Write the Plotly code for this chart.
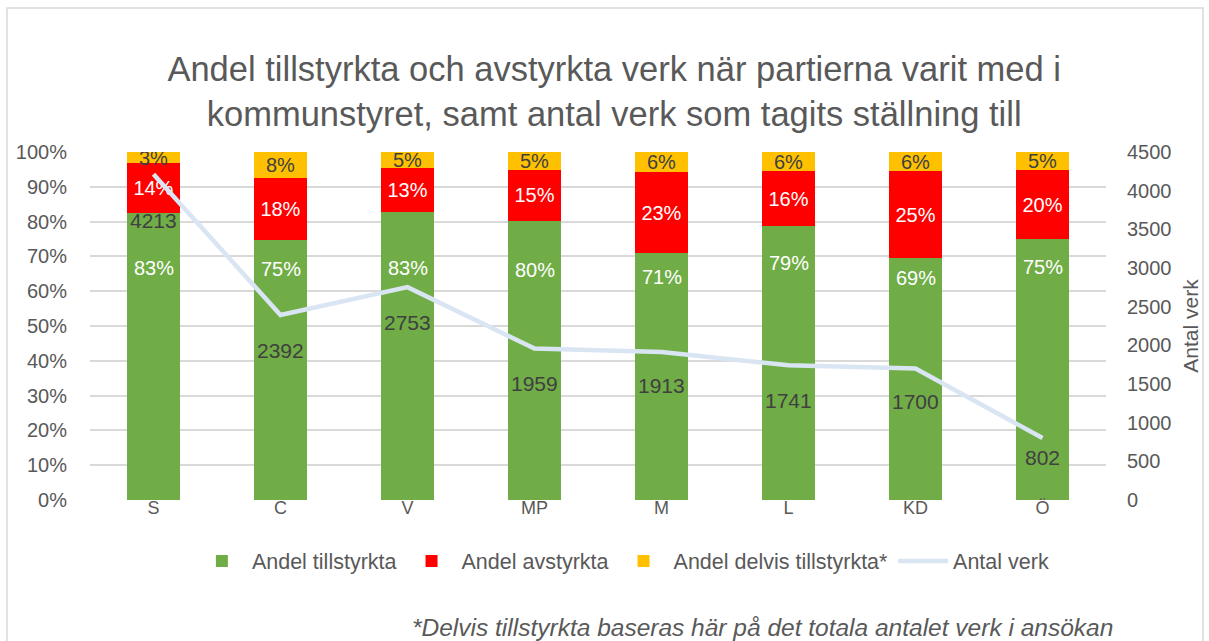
import plotly.graph_objects as go

categories = ["S", "C", "V", "MP", "M", "L", "KD", "Ö"]
andel_tillstyrkta = [82.6, 74.8, 82.7, 80.3, 71.0, 78.7, 69.4, 75.0]
andel_avstyrkta = [14.2, 17.6, 12.7, 14.6, 23.2, 15.8, 25.0, 19.8]
andel_delvis = [3.2, 7.6, 4.6, 5.1, 5.8, 5.5, 5.6, 5.2]
antal_verk = [4213, 2392, 2753, 1959, 1913, 1741, 1700, 802]

# label offsets (style only, pixels)
green_label_shift = [-55, -29, -56, -49, -24, -37, -20, -28]
line_label_shift = [-46, -35, -35, -35, -33, -35, -33, -20]

FONT = "Liberation Sans, Arial"
GRAY = "#595959"
DARK = "#404040"

fig = go.Figure()
fig.add_trace(go.Bar(x=categories, y=andel_tillstyrkta, name="Andel tillstyrkta",
                     marker_color="#70ad47"))
fig.add_trace(go.Bar(x=categories, y=andel_avstyrkta, name="Andel avstyrkta",
                     marker_color="#ff0000", texttemplate="%{y:.0f}%",
                     textfont=dict(color="white", size=20, family=FONT)))
fig.add_trace(go.Bar(x=categories, y=andel_delvis, name="Andel delvis tillstyrkta*",
                     marker_color="#ffc000", texttemplate="%{y:.0f}%",
                     textfont=dict(color=DARK, size=20, family=FONT)))
fig.update_traces(textposition="inside", insidetextanchor="middle",
                  constraintext="none", marker_line_width=0, selector=dict(type="bar"))
fig.add_trace(go.Scatter(x=categories, y=antal_verk, name="Antal verk", yaxis="y2",
                         mode="lines", line=dict(color="#dae5f4", width=4.5)))

for c, v, s in zip(categories, andel_tillstyrkta, green_label_shift):
    fig.add_annotation(x=c, y=v, xref="x", yref="y", text=f"{v:.0f}%", showarrow=False,
                       yshift=s, font=dict(size=20, color="white", family=FONT))

for c, v, s in zip(categories, antal_verk, line_label_shift):
    fig.add_annotation(x=c, y=v, xref="x", yref="y2", text=str(v), showarrow=False,
                       yshift=s, font=dict(size=21, color=DARK, family=FONT))

fig.add_annotation(text="<i>*Delvis tillstyrkta baseras här på det totala antalet verk i ansökan</i>",
                   xref="paper", yref="paper", x=1.009, y=-0.366, xanchor="right",
                   yanchor="middle", showarrow=False,
                   font=dict(size=24.5, color=GRAY, family=FONT))

fig.update_layout(
    width=1209, height=641,
    margin=dict(l=90, r=103, t=152, b=141),
    paper_bgcolor="white", plot_bgcolor="white",
    barmode="stack", bargap=0.59,
    font=dict(family=FONT, color=GRAY, size=20),
    title=dict(text="Andel tillstyrkta och avstyrkta verk när partierna varit med i<br>kommunstyret, samt antal verk som tagits ställning till",
               x=0.508, xanchor="center", y=0.873, yanchor="middle",
               font=dict(size=34.5, color=GRAY, family=FONT)),
    xaxis=dict(showline=False, ticks="", tickfont=dict(size=18, color=GRAY),
               ticklabelstandoff=-5),
    yaxis=dict(range=[0, 100], dtick=10, ticksuffix="%", showgrid=True,
               gridcolor="#d9d9d9", gridwidth=1.5, zeroline=False,
               tickfont=dict(size=20, color=GRAY), ticklabelstandoff=22),
    yaxis2=dict(range=[0, 4500], dtick=500, overlaying="y", side="right",
                showgrid=False, zeroline=False, tickfont=dict(size=20, color=GRAY),
                ticklabelstandoff=20,
                title=dict(text="Antal verk", font=dict(size=21, color=GRAY), standoff=12)),
    legend=dict(orientation="h", x=0.525, xanchor="center", y=-0.175, yanchor="middle",
                font=dict(size=21.5, color=GRAY), traceorder="normal", itemwidth=50),
    shapes=[dict(type="rect", xref="paper", yref="paper",
                 x0=-83/1016, x1=1113/1016, y0=-150/348, y1=492/348,
                 line=dict(color="#d9d9d9", width=1.5), layer="below")],
)

fig.write_html("out.html", config={"displayModeBar": False},
               post_script="document.body.style.margin='0';")
